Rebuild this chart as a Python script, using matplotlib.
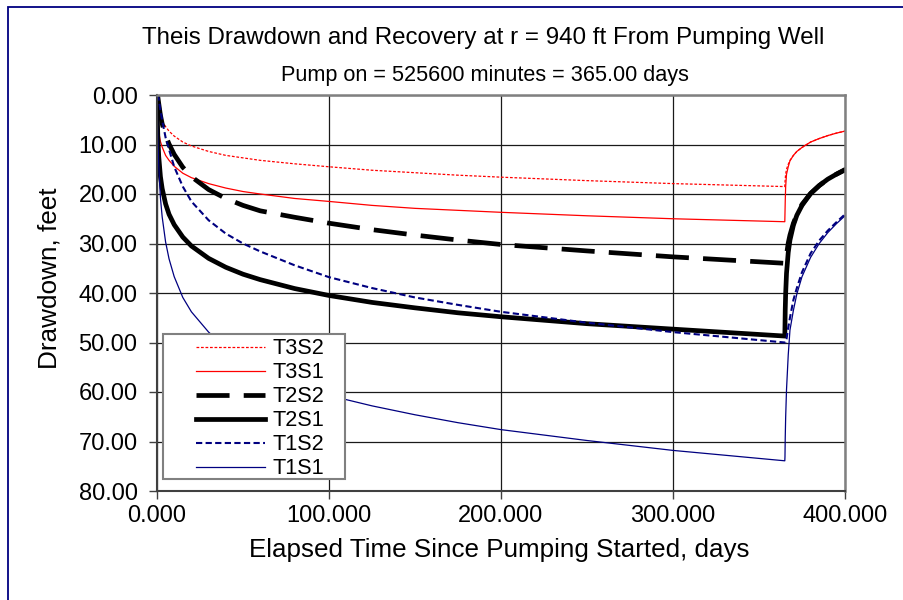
import matplotlib
matplotlib.use("Agg")
import matplotlib.pyplot as plt
from matplotlib.patches import Rectangle
from matplotlib.ticker import FormatStrFormatter

plt.rcParams['font.family'] = ['Liberation Sans', 'DejaVu Sans']

# time, days (pumping to 365 days, then recovery)
days = [0, 0.1, 0.25, 0.5, 1, 2, 3, 5, 7, 10, 15, 20, 30, 40, 50, 60, 80, 100,
        125, 150, 175, 200, 250, 300, 365,
        365.1, 365.25, 365.5, 366, 367, 368, 370, 372, 375, 380, 385, 390, 395, 400]

# drawdown, feet
t3s2 = [0, 0.8, 1.5, 2.5, 3.5, 4.6, 5.3, 6.4, 7.3, 8.3, 9.5, 10.3, 11.4, 12.2, 12.7, 13.2, 13.9, 14.5,
        15.2, 15.7, 16.2, 16.6, 17.3, 17.9, 18.5,
        17.7, 17.0, 16.0, 15.0, 14.0, 13.2, 12.2, 11.4, 10.6, 9.5, 8.8, 8.2, 7.7, 7.3]
t3s1 = [0, 1.6, 3.7, 5.5, 7.5, 9.4, 10.5, 12.2, 13.2, 14.4, 15.8, 16.7, 17.9, 18.8, 19.5, 20.0, 20.9, 21.5,
        22.3, 22.9, 23.3, 23.7, 24.4, 25.0, 25.6,
        24.0, 21.5, 18.5, 16.0, 14.5, 13.3, 12.2, 11.4, 10.6, 9.5, 8.8, 8.2, 7.7, 7.3]
t2s2 = [0, 0, 0.05, 0.4, 1.7, 4.1, 5.8, 8.2, 9.9, 12.0, 14.6, 16.5, 19.1, 20.9, 22.3, 23.4, 24.7, 25.9,
        27.2, 28.3, 29.3, 30.2, 31.5, 32.7, 34.0,
        34.0, 33.9, 33.6, 32.3, 29.9, 28.3, 25.9, 24.2, 22.1, 19.9, 18.3, 17.0, 16.0, 15.1]
t2s1 = [0, 1.9, 5.3, 8.6, 12.4, 16.5, 18.9, 22.0, 24.1, 26.2, 28.7, 30.5, 33.0, 34.8, 36.2, 37.3, 39.1, 40.5,
        41.9, 43.0, 44.0, 44.8, 46.2, 47.3, 48.7,
        46.8, 43.4, 40.1, 36.0, 31.8, 29.3, 26.3, 24.3, 22.3, 19.9, 18.3, 17.0, 16.0, 15.1]
t1s2 = [0, 0, 0, 0.1, 0.8, 3.1, 5.1, 8.6, 11.0, 14.5, 18.5, 21.5, 25.3, 28.0, 30.0, 31.6, 34.4, 36.8,
        39.0, 40.9, 42.4, 43.8, 46.0, 47.9, 50.0,
        50.0, 50.0, 50.0, 49.3, 47.0, 45.0, 41.4, 39.0, 35.8, 32.0, 29.4, 27.4, 25.7, 24.1]
t1s1 = [0, 0.8, 4.6, 8.8, 14.1, 20.8, 24.6, 29.7, 33.1, 36.7, 40.9, 43.8, 47.9, 51.0, 53.3, 55.1, 58.1, 60.7,
        62.8, 64.6, 66.2, 67.6, 69.8, 71.8, 73.9,
        73.1, 69.3, 65.1, 59.5, 52.5, 47.5, 43.5, 40.2, 36.7, 32.8, 30.0, 27.8, 26.0, 24.4]

labels = ['T3S2', 'T3S1', 'T2S2', 'T2S1', 'T1S2', 'T1S1']

W, H = 904, 600
fig = plt.figure(figsize=(W / 100, H / 100), dpi=100)
ax = fig.add_axes([157 / W, 1 - 491 / H, 688 / W, 396 / H])

navy = '#000080'
ax.plot(days, t3s2, color='red', lw=0.9, dashes=(2.2, 1.4), label=labels[0])
ax.plot(days, t3s1, color='red', lw=0.9, label=labels[1])
ax.plot(days, t2s2, color='black', lw=3.4, dashes=(7, 3), label=labels[2])
ax.plot(days, t2s1, color='black', lw=3.4, label=labels[3])
ax.plot(days, t1s2, color=navy, lw=1.5, dashes=(3, 1.6), label=labels[4])
ax.plot(days, t1s1, color=navy, lw=0.9, label=labels[5])

ax.set_xlim(0, 400)
ax.set_ylim(80, 0)
ax.set_xticks([0, 100, 200, 300, 400])
ax.set_yticks(range(0, 81, 10))
ax.xaxis.set_major_formatter(FormatStrFormatter('%.3f'))
ax.yaxis.set_major_formatter(FormatStrFormatter('%.2f'))
ax.tick_params(direction='out', length=6, width=1, labelsize=17, color='#404040')
ax.tick_params(axis='y', pad=8)
ax.tick_params(axis='x', pad=4)
ax.grid(True, color='#1a1a1a', lw=0.9)
ax.set_axisbelow(True)
for side in ['top', 'right']:
    ax.spines[side].set_color('#808080')
    ax.spines[side].set_linewidth(1.8)
for side in ['left', 'bottom']:
    ax.spines[side].set_color('#404040')
    ax.spines[side].set_linewidth(1.5)

ax.set_xlabel('Elapsed Time Since Pumping Started, days', fontsize=18.7)
ax.set_ylabel('Drawdown, feet', fontsize=18.8)
ax.xaxis.set_label_coords((499 - 157) / 688, -(538 - 491) / 396)
ax.yaxis.set_label_coords(-(157 - 62) / 688, (491 - 278) / 396)

fig.text(483 / W, 1 - 38 / H, 'Theis Drawdown and Recovery at r = 940 ft From Pumping Well',
         ha='center', va='center', fontsize=17.4)
fig.text(485 / W, 1 - 75 / H, 'Pump on = 525600 minutes = 365.00 days',
         ha='center', va='center', fontsize=15.6)

# legend: drawn frame plus a frameless legend inside it
x0, x1 = (163 - 157) / 688, (345 - 157) / 688
y0, y1 = (491 - 479) / 396, (491 - 334) / 396
ax.add_patch(Rectangle((x0, y0), x1 - x0, y1 - y0, transform=ax.transAxes,
                       facecolor='white', edgecolor='#808080', lw=1.5, zorder=4))
leg = ax.legend(loc='upper left', bbox_to_anchor=((192 - 157) / 688, y1),
                frameon=False, fontsize=15.6, handlelength=3.18, handletextpad=0.32,
                labelspacing=0.14, borderpad=0.2, borderaxespad=0)
leg.set_zorder(6)

# navy outer border of the chart
fig.add_artist(Rectangle((8 / W, -0.5), 2, 1 - 7 / H + 0.5, transform=fig.transFigure,
                         facecolor='none', edgecolor=navy, lw=1.3))

fig.savefig('out.png', dpi=100)
